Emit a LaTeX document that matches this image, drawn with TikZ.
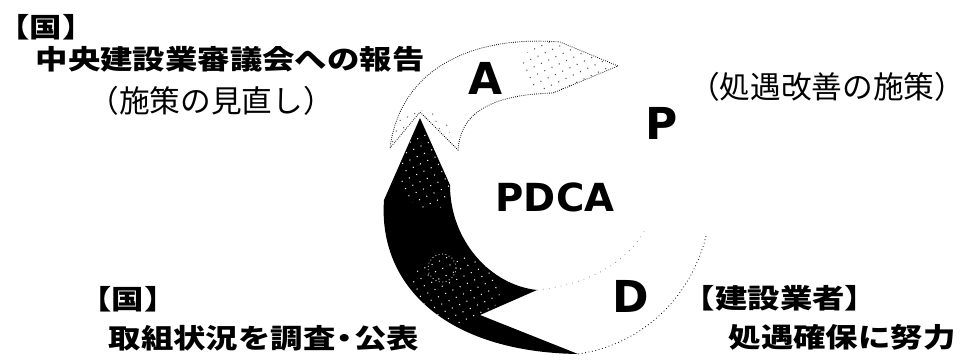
\documentclass[tikz,border=0pt]{standalone}
\usepackage{fontspec}
\newfontfamily\jpbold[FakeStretch=1.2]{Noto Sans CJK JP}
\newfontfamily\jpreg{Noto Sans CJK JP}
\newfontfamily\latbold{DejaVu Sans}
\usetikzlibrary{patterns,patterns.meta}

\tikzdeclarepattern{
  name=sparse dots,
  type=uncolored,
  bottom left={(-3pt,-3pt)},
  top right={(3pt,3pt)},
  tile size={(6pt,6pt)},
  tile transformation={rotate=25},
  code={\fill (0pt,0pt) circle (0.55pt);}
}

% trims part of the blank half of the corner brackets
\newcommand\bracketed[1]{\kern-.33em【#1】\kern-.33em}

\tikzset{
  headline/.style={font=\jpbold\bfseries\fontsize{20.25pt}{24pt}\selectfont, inner sep=0pt},
  remark/.style={font=\jpreg\fontsize{23pt}{27pt}\selectfont, inner sep=0pt},
  phase/.style={font=\latbold\bfseries\fontsize{33pt}{36pt}\selectfont, inner sep=0pt},
  title/.style={font=\latbold\bfseries\fontsize{29pt}{32pt}\selectfont, inner sep=0pt},
  faintedge/.style={line width=0.6pt, densely dotted},
}

\begin{document}
\begin{tikzpicture}[x=0.75pt,y=-0.75pt]
\useasboundingbox (0,0) rectangle (978,360);

% ---- key points of the cycle ----
\coordinate (ctip)   at (420,118);  % tip of the check arrow
\coordinate (cleft)  at (384,200);
\coordinate (cend)   at (578,354);
\coordinate (notch)  at (480,315);
\coordinate (spike)  at (537,290);
\coordinate (cright) at (450,185);

\coordinate (atl)    at (390,148);  % tail of the act arrow
\coordinate (anotch) at (420,112);
\coordinate (atr)    at (458,150);
\coordinate (abase)  at (553,93);
\coordinate (atip)   at (618,66);
\coordinate (atop)   at (560,42);

\coordinate (dtop)   at (706,236);  % outer edge of the do arrow
\coordinate (din)    at (645,230);

% ---- act arrow (top, light) ----
\path[fill=white] (atl) -- (anotch) -- (atr)
   .. controls (460,120) and (480,95) .. (abase)
   -- (atip) -- (atop)
   .. controls (470,35) and (400,70) .. (atl) -- cycle;
\begin{scope}
  \clip (atl) -- (anotch) -- (atr)
   .. controls (460,120) and (480,95) .. (abase)
   -- (atip) -- (atop)
   .. controls (470,35) and (400,70) .. (atl) -- cycle;
  \fill[pattern=sparse dots, pattern color=black!70] (565,68) ellipse (45 and 28);
  \fill[pattern=sparse dots, pattern color=black!60] (415,132) ellipse (35 and 22);
\end{scope}
\draw[faintedge] (atl) -- (anotch) -- (atr)
   .. controls (460,120) and (480,95) .. (abase)
   -- (atip) -- (atop)
   .. controls (470,35) and (400,70) .. (atl);

% ---- do arrow (right, nearly invisible) ----
\draw[line width=0.6pt, dotted] (dtop) .. controls (690,300) and (640,345) .. (cend);
\draw[line width=0.5pt, loosely dotted, black!60] (spike) .. controls (585,285) and (625,265) .. (din);

% ---- check arrow (left, dark) ----
\fill[black] (ctip) -- (cleft)
   .. controls (378,285) and (445,352) .. (cend)
   -- (notch) -- (spike)
   .. controls (490,285) and (450,240) .. (cright) -- cycle;
\begin{scope}
  \clip (ctip) -- (cleft)
   .. controls (378,285) and (445,352) .. (cend)
   -- (notch) -- (spike)
   .. controls (490,285) and (450,240) .. (cright) -- cycle;
  \fill[pattern=sparse dots, pattern color=white] (430,170) ellipse (30 and 40);
  \fill[pattern=sparse dots, pattern color=white] (455,290) ellipse (45 and 35);
  \draw[white, line width=0.6pt, dotted] (442,268) circle (14);
\end{scope}

% ---- letters ----
\node[phase] (A) at (486,78) {A};
\node[phase] (P) at (662,123) {P};
\node[phase] (D) at (631,296) {D};
\node[title] (pdca) at (555,197) {PDCA};

% ---- captions ----
\node[headline] (gov1) at (46,27) {\bracketed{国}};
\node[headline] (council) at (230,59) {中央建設業審議会への報告};
\node[remark] (review) at (211,101) {（施策の見直し）};
\node[remark] (measure) at (827,87) {（処遇改善の施策）};
\node[headline] (gov2) at (128,299) {\bracketed{国}};
\node[headline] (survey) at (264,338) {取組状況を調査\kern-.25em・\kern-.25em公表};
\node[headline] (firms) at (780,298) {\bracketed{建設業者}};
\node[headline] (effort) at (842,337) {処遇確保に努力};
\end{tikzpicture}
\end{document}
